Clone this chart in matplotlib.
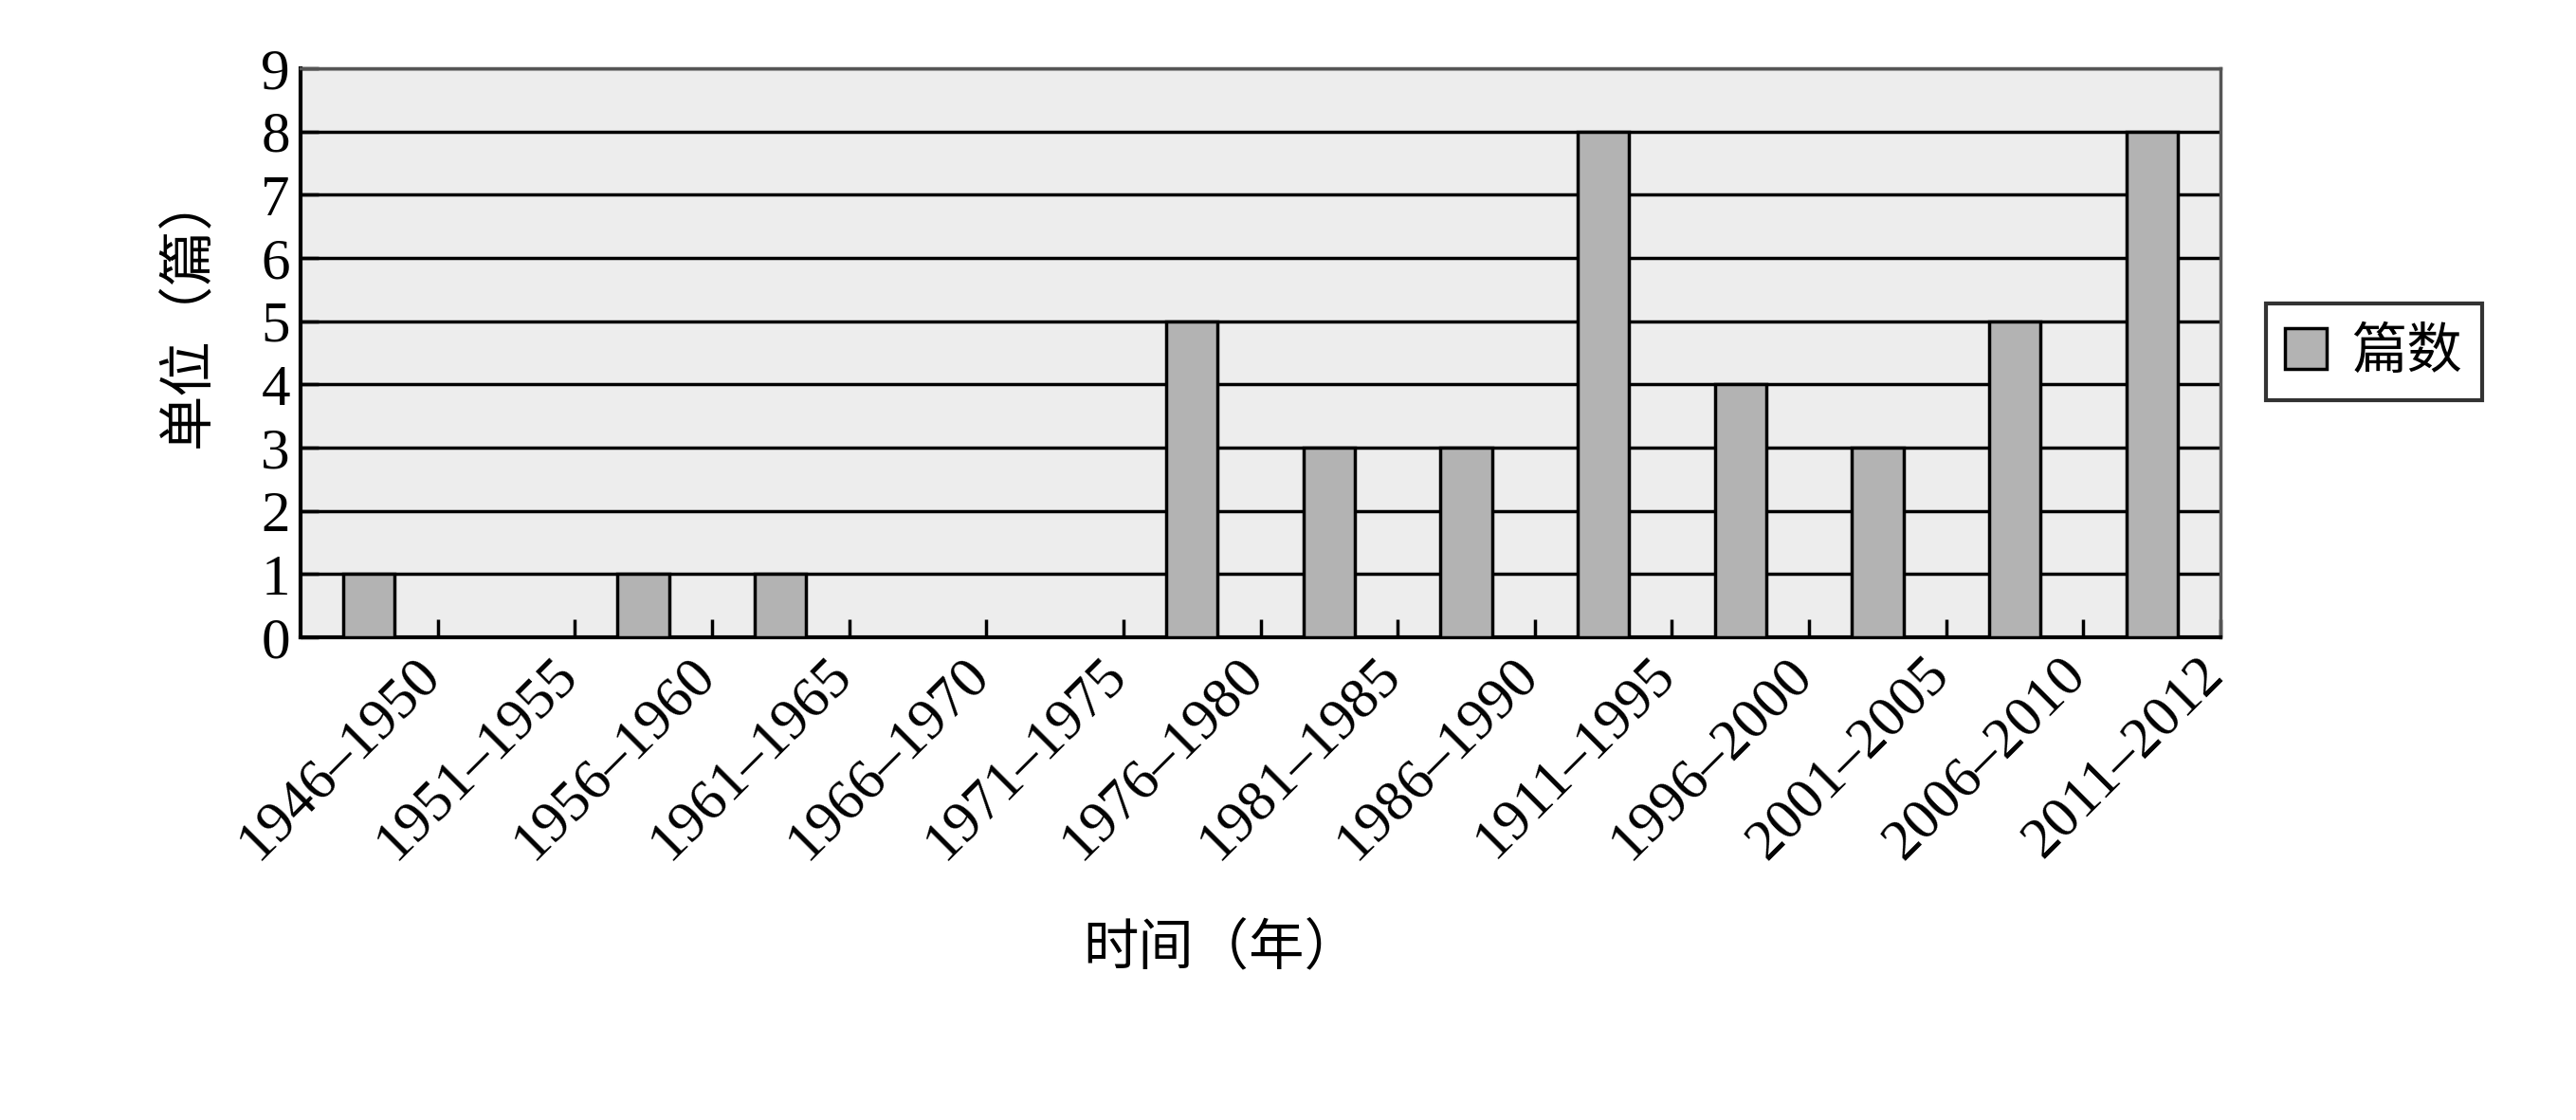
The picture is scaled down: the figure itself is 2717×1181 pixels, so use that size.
import matplotlib.pyplot as plt
import matplotlib.transforms as mtransforms
from matplotlib.patches import Patch

periods = ['1946–1950', '1951–1955', '1956–1960', '1961–1965', '1966–1970',
           '1971–1975', '1976–1980', '1981–1985', '1986–1990', '1911–1995',
           '1996–2000', '2001–2005', '2006–2010', '2011–2012']
counts = [1, 0, 1, 1, 0, 0, 5, 3, 3, 8, 4, 3, 5, 8]
yticks = list(range(10))

serif = ['Liberation Serif', 'DejaVu Serif']
cjk = ['Noto Sans CJK SC', 'DejaVu Sans']

fig = plt.figure(figsize=(27.17, 11.81), dpi=100)
ax = fig.add_axes([317 / 2717, 1 - 672 / 1181, (2342 - 317) / 2717, (672 - 72) / 1181])
ax.set_facecolor('#ededed')

x = list(range(len(periods)))
ax.bar(x, counts, width=0.375, color='#b3b3b3', edgecolor='black', linewidth=2.5, zorder=3)

ax.set_ylim(0, 9)
ax.set_xlim(-0.5, len(periods) - 0.5)
ax.set_yticks(yticks)
ax.set_yticklabels([str(v) for v in yticks], fontfamily=serif, fontsize=44)
for v in yticks[1:]:
    ax.axhline(v, color='black', linewidth=2.5, zorder=2)

# ticks at category boundaries
ax.set_xticks([i + 0.5 for i in x[:-1]] + [len(periods) - 0.5], minor=True)
ax.tick_params(axis='x', which='minor', direction='in', length=14, width=2.5, color='black')
ax.set_xticks(x)
ax.tick_params(axis='x', which='major', length=0, pad=8)
ax.tick_params(axis='y', direction='in', length=14, width=2.5, pad=8)
offset = mtransforms.ScaledTranslation(0.47, 0, fig.dpi_scale_trans)
ax.set_xticklabels(periods, rotation=45, ha='right', va='top', rotation_mode='anchor',
                   fontfamily=serif, fontsize=44)
for lbl in ax.get_xticklabels():
    lbl.set_transform(lbl.get_transform() + offset)

for side in ['left', 'bottom']:
    ax.spines[side].set_color('black')
    ax.spines[side].set_linewidth(3)
for side in ['top', 'right']:
    ax.spines[side].set_color('#555555')
    ax.spines[side].set_linewidth(2.5)

fig.text(199 / 2717, 1 - 326 / 1181, '单位（篇）', rotation=90, ha='center', va='center',
         fontfamily=cjk, fontsize=42)
fig.text(1288 / 2717, 1 - 1001 / 1181, '时间（年）', ha='center', va='center',
         fontfamily=cjk, fontsize=42)

handles = [Patch(facecolor='#b3b3b3', edgecolor='black', linewidth=2.5, label='篇数')]
leg = fig.legend(handles=handles, loc='center left', bbox_to_anchor=(2390 / 2717, 1 - 371 / 1181),
                 prop={'family': cjk, 'size': 42}, frameon=True, fancybox=False,
                 borderaxespad=0, handlelength=0.75, handleheight=0.75, handletextpad=0.45,
                 borderpad=0.35)
leg.get_frame().set_edgecolor('black')
leg.get_frame().set_linewidth(3)

fig.savefig('out.png', dpi=100, facecolor='white')
